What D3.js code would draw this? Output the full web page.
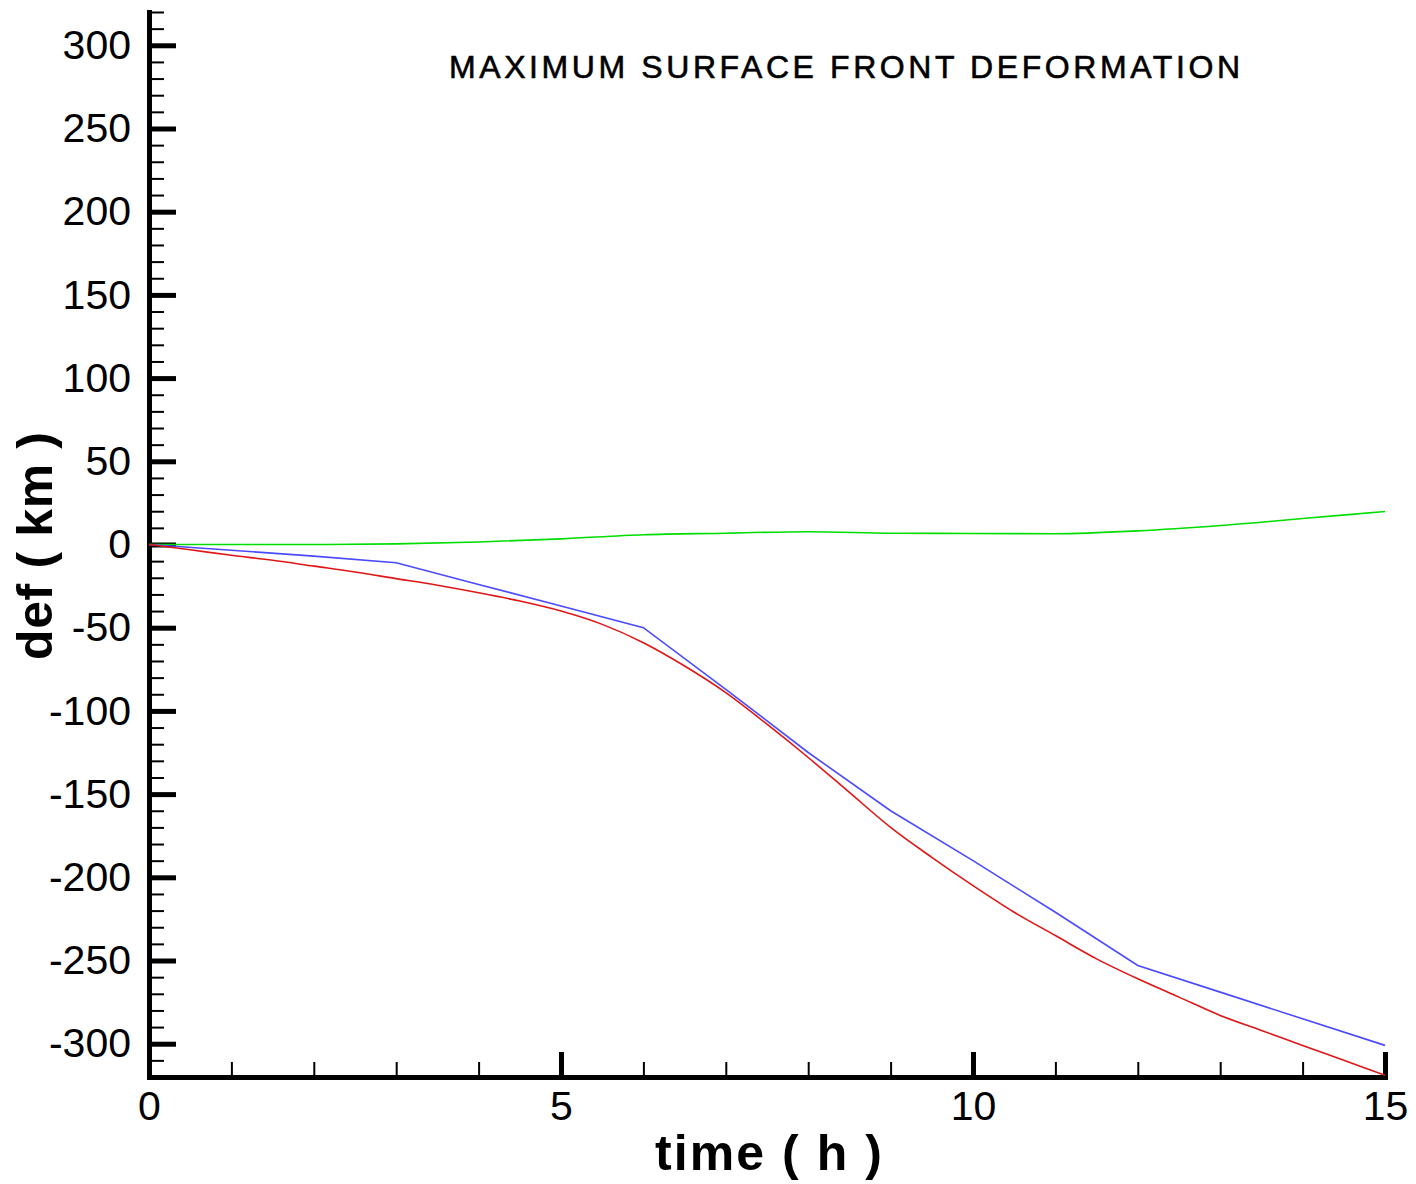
<!DOCTYPE html>
<html>
<head>
<meta charset="utf-8">
<script src="https://cdn.jsdelivr.net/npm/d3@7"></script>
<style>
  body { margin: 0; background: #fff; }
  svg text { font-family: "Liberation Sans", Arial, sans-serif; fill: #000; }
  .axis path.domain { stroke: #000; stroke-width: 5; stroke-linecap: square; }
  .axis .tick line { stroke: #000; }
  .major .tick line { stroke-width: 5; }
  .minor .tick line { stroke-width: 2; }
  .axis .tick text { font-size: 41px; }
  .curve { fill: none; stroke-width: 1.6; }
</style>
</head>
<body>
<div id="chart"></div>
<script>
// time (h) for the blue and green runs
var hours = [0, 1, 2, 3, 4, 5, 6, 7, 8, 9, 10, 11, 12, 13, 14, 15];
// deformation (km)
var greenDef = [0, 0, 0, 0.4, 1.5, 3.4, 5.9, 6.8, 7.7, 6.8, 6.6, 6.5, 8.2, 11.4, 15.6, 19.8];
var blueDef = [0, -3.5, -7, -11, -24, -37, -50, -87, -125, -160, -190, -221, -253, -269, -285, -301];

// the red run is smoother, read every half hour
var halfHours = [0, 0.5, 1, 1.5, 2, 2.5, 3, 3.5, 4, 4.5, 5, 5.5, 6, 6.5, 7, 7.5,
                 8, 8.5, 9, 9.5, 10, 10.5, 11, 11.5, 12, 12.5, 13, 13.5, 14, 14.5, 15];
var redDef = [0, -3.2, -6.5, -9.5, -13, -16.5, -20.5, -24.5, -29, -34, -40, -48, -59, -73, -89, -108,
              -128, -149, -170, -188, -205, -221, -235, -249, -261, -272, -283, -292, -301, -310, -319];

var yMajor = [-300, -250, -200, -150, -100, -50, 0, 50, 100, 150, 200, 250, 300];
var xMajor = [0, 5, 10, 15];

var fullWidth = 1416,
    fullHeight = 1184;

var svg = d3.select("#chart")
    .append("svg")
    .attr("width", fullWidth)
    .attr("height", fullHeight);

var x = d3.scaleLinear().domain([0, 15]).range([149, 1385]);
var y = d3.scaleLinear().domain([-320, 320]).range([1077, 12]);

var hyphen = function(d) { return String(d).replace("\u2212", "-"); };

// minor ticks first, majors (and the axis lines) on top
svg.append("g")
    .attr("class", "axis minor")
    .attr("transform", "translate(" + x(0) + ",0)")
    .call(d3.axisLeft(y).tickValues(d3.range(-320, 321, 10)).tickSizeInner(-15).tickSizeOuter(0).tickFormat(""))
    .select(".domain").remove();

svg.append("g")
    .attr("class", "axis minor")
    .attr("transform", "translate(0," + y(-320) + ")")
    .call(d3.axisBottom(x).tickValues(d3.range(0, 16, 1)).tickSizeInner(-15).tickSizeOuter(0).tickFormat(""))
    .select(".domain").remove();

svg.append("g")
    .attr("class", "axis major")
    .attr("transform", "translate(" + x(0) + ",0)")
    .call(d3.axisLeft(y).tickValues(yMajor).tickSizeInner(-27).tickSizeOuter(0).tickPadding(18)
        .tickFormat(function(d) { return hyphen(d); }));

svg.append("g")
    .attr("class", "axis major")
    .attr("transform", "translate(0," + y(-320) + ")")
    .call(d3.axisBottom(x).tickValues(xMajor).tickSizeInner(-25).tickSizeOuter(0).tickPadding(14)
        .tickFormat(function(d) { return hyphen(d); }));

var line = d3.line()
    .x(function(d) { return x(d[0]); })
    .y(function(d) { return y(d[1]); });

svg.append("path")
    .attr("class", "curve")
    .attr("stroke", "#00dd00")
    .attr("d", line.curve(d3.curveMonotoneX)(d3.zip(hours, greenDef)));

svg.append("path")
    .attr("class", "curve")
    .attr("stroke", "#4a4aff")
    .attr("d", line.curve(d3.curveLinear)(d3.zip(hours, blueDef)));

svg.append("path")
    .attr("class", "curve")
    .attr("stroke", "#e01515")
    .attr("d", line.curve(d3.curveMonotoneX)(d3.zip(halfHours, redDef)));

// titles
svg.append("text")
    .attr("x", 449)
    .attr("y", 78)
    .attr("font-size", 32)
    .attr("textLength", 791)
    .attr("lengthAdjust", "spacing")
    .style("stroke", "#000")
    .style("stroke-width", 0.6)
    .text("MAXIMUM SURFACE FRONT DEFORMATION");

svg.append("text")
    .attr("x", 655)
    .attr("y", 1170)
    .attr("font-size", 50)
    .attr("font-weight", "bold")
    .attr("textLength", 227)
    .attr("lengthAdjust", "spacing")
    .text("time ( h )");

svg.append("text")
    .attr("transform", "translate(52,660) rotate(-90)")
    .attr("font-size", 50)
    .attr("font-weight", "bold")
    .attr("textLength", 228)
    .attr("lengthAdjust", "spacing")
    .text("def ( km )");
</script>
</body>
</html>
